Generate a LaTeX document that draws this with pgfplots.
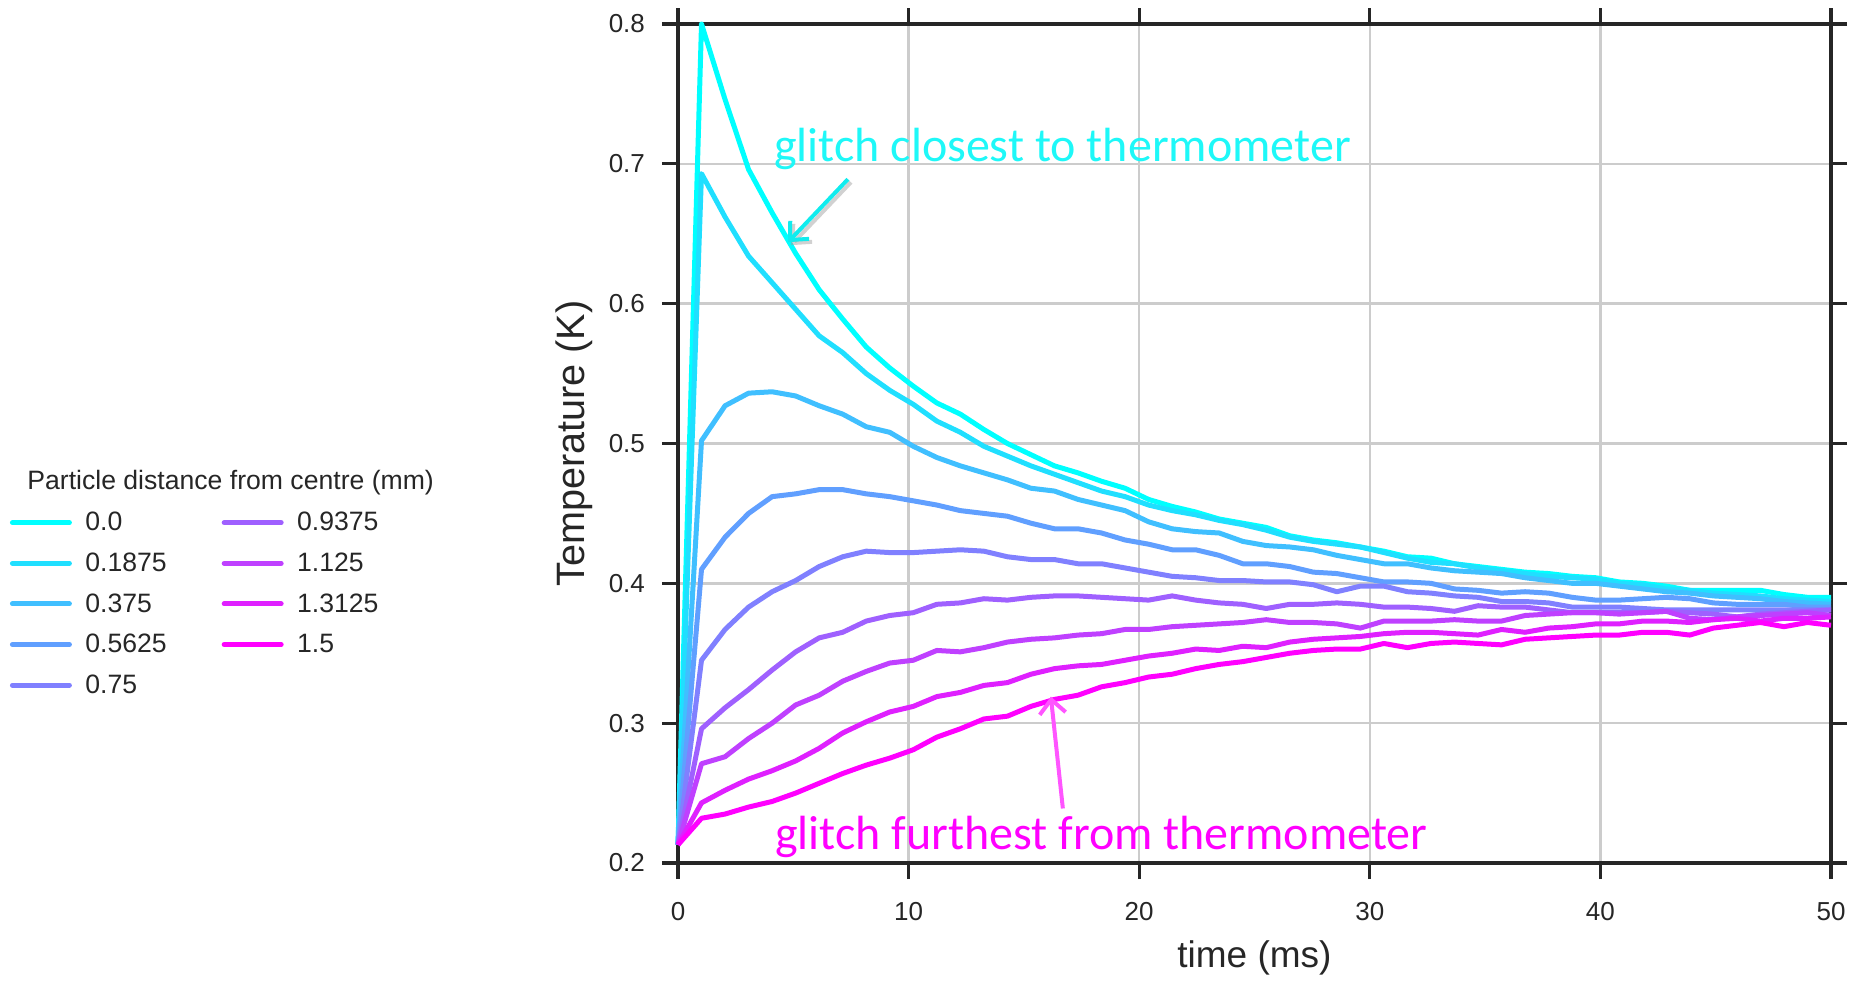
\documentclass[border=0pt]{standalone}
\usepackage{fontspec}
\setmainfont{Liberation Sans}
\newfontfamily\calibri{Carlito}
\usepackage{pgfplots}
\usepackage{pgfplotstable}
\pgfplotsset{compat=1.18}
\usetikzlibrary{arrows.meta}

\definecolor{txt}{HTML}{262626}
\definecolor{gridc}{HTML}{CCCCCC}
\definecolor{c0}{rgb}{0,1,1}
\definecolor{c1}{rgb}{0.125,0.875,1}
\definecolor{c2}{rgb}{0.25,0.75,1}
\definecolor{c3}{rgb}{0.375,0.625,1}
\definecolor{c4}{rgb}{0.5,0.5,1}
\definecolor{c5}{rgb}{0.625,0.375,1}
\definecolor{c6}{rgb}{0.75,0.25,1}
\definecolor{c7}{rgb}{0.875,0.125,1}
\definecolor{c8}{rgb}{1,0,1}
\definecolor{cyanT}{HTML}{1EF8F8}
\definecolor{cyanA}{HTML}{10ECEE}
\definecolor{magT}{HTML}{FF00FF}
\definecolor{magA}{HTML}{FF55FF}

\pgfplotsset{legend image code/.code={\draw[#1, line cap=round] (0pt,0pt) -- (28.5pt,0pt);}}

\pgfplotstableread{
t s0 s1 s2 s3 s4 s5 s6 s7 s8
0.000 0.213 0.213 0.213 0.213 0.213 0.213 0.213 0.213 0.213
1.020 0.800 0.693 0.502 0.410 0.345 0.296 0.271 0.243 0.232
2.041 0.746 0.662 0.527 0.433 0.367 0.311 0.276 0.252 0.235
3.061 0.696 0.634 0.536 0.450 0.383 0.324 0.289 0.260 0.240
4.082 0.665 0.615 0.537 0.462 0.394 0.338 0.300 0.266 0.244
5.102 0.636 0.596 0.534 0.464 0.402 0.351 0.313 0.273 0.250
6.122 0.610 0.577 0.527 0.467 0.412 0.361 0.320 0.282 0.257
7.143 0.589 0.565 0.521 0.467 0.419 0.365 0.330 0.293 0.264
8.163 0.569 0.550 0.512 0.464 0.423 0.373 0.337 0.301 0.270
9.184 0.554 0.538 0.508 0.462 0.422 0.377 0.343 0.308 0.275
10.204 0.541 0.528 0.498 0.459 0.422 0.379 0.345 0.312 0.281
11.224 0.529 0.516 0.490 0.456 0.423 0.385 0.352 0.319 0.290
12.245 0.521 0.508 0.484 0.452 0.424 0.386 0.351 0.322 0.296
13.265 0.510 0.498 0.479 0.450 0.423 0.389 0.354 0.327 0.303
14.286 0.500 0.491 0.474 0.448 0.419 0.388 0.358 0.329 0.305
15.306 0.492 0.484 0.468 0.443 0.417 0.390 0.360 0.335 0.312
16.327 0.484 0.478 0.466 0.439 0.417 0.391 0.361 0.339 0.317
17.347 0.479 0.472 0.460 0.439 0.414 0.391 0.363 0.341 0.320
18.367 0.473 0.466 0.456 0.436 0.414 0.390 0.364 0.342 0.326
19.388 0.468 0.462 0.452 0.431 0.411 0.389 0.367 0.345 0.329
20.408 0.460 0.456 0.444 0.428 0.408 0.388 0.367 0.348 0.333
21.429 0.455 0.452 0.439 0.424 0.405 0.391 0.369 0.350 0.335
22.449 0.451 0.449 0.437 0.424 0.404 0.388 0.370 0.353 0.339
23.469 0.446 0.445 0.436 0.420 0.402 0.386 0.371 0.352 0.342
24.490 0.443 0.442 0.430 0.414 0.402 0.385 0.372 0.355 0.344
25.510 0.440 0.438 0.427 0.414 0.401 0.382 0.374 0.354 0.347
26.531 0.434 0.433 0.426 0.412 0.401 0.385 0.372 0.358 0.350
27.551 0.431 0.430 0.424 0.408 0.399 0.385 0.372 0.360 0.352
28.571 0.429 0.428 0.420 0.407 0.394 0.386 0.371 0.361 0.353
29.592 0.426 0.426 0.417 0.404 0.398 0.385 0.368 0.362 0.353
30.612 0.423 0.422 0.414 0.401 0.398 0.383 0.373 0.364 0.357
31.633 0.419 0.418 0.414 0.401 0.394 0.383 0.373 0.365 0.354
32.653 0.418 0.415 0.411 0.400 0.393 0.382 0.373 0.365 0.357
33.673 0.414 0.414 0.409 0.396 0.391 0.380 0.374 0.364 0.358
34.694 0.412 0.411 0.408 0.395 0.390 0.384 0.373 0.363 0.357
35.714 0.410 0.409 0.407 0.393 0.387 0.383 0.373 0.367 0.356
36.735 0.408 0.407 0.404 0.394 0.387 0.383 0.377 0.365 0.360
37.755 0.407 0.405 0.402 0.393 0.386 0.381 0.378 0.368 0.361
38.776 0.405 0.404 0.400 0.390 0.383 0.379 0.379 0.369 0.362
39.796 0.404 0.403 0.400 0.388 0.383 0.379 0.379 0.371 0.363
40.816 0.401 0.400 0.398 0.388 0.383 0.379 0.378 0.371 0.363
41.837 0.400 0.399 0.396 0.389 0.382 0.379 0.379 0.373 0.365
42.857 0.398 0.396 0.394 0.390 0.381 0.380 0.380 0.373 0.365
43.878 0.395 0.395 0.393 0.389 0.381 0.379 0.375 0.372 0.363
44.898 0.395 0.393 0.391 0.386 0.381 0.378 0.374 0.374 0.368
45.918 0.395 0.392 0.390 0.385 0.381 0.376 0.376 0.375 0.370
46.939 0.395 0.391 0.389 0.385 0.381 0.378 0.377 0.373 0.372
47.959 0.392 0.389 0.387 0.385 0.381 0.379 0.378 0.375 0.369
48.980 0.390 0.388 0.386 0.383 0.381 0.380 0.379 0.375 0.372
50.000 0.390 0.387 0.385 0.383 0.381 0.381 0.377 0.376 0.370
}\data

\begin{document}
\begin{tikzpicture}
\begin{axis}[
  width=576.5pt, height=419.5pt, scale only axis,
  xmin=0, xmax=50, ymin=0.2, ymax=0.8,
  xtick={0,10,20,30,40,50},
  ytick={0.2,0.3,0.4,0.5,0.6,0.7,0.8},
  ticklabel style={font=\fontsize{13}{15.6}\selectfont, text=txt},
  xticklabel style={yshift=-8pt},
  yticklabel style={xshift=-5pt, /pgf/number format/.cd, fixed, fixed zerofill, precision=1},
  /pgf/number format/assume math mode=true,
  tick align=outside,
  major tick length=8pt,
  tick style={txt, line width=1.6pt},
  axis line style={txt, line width=1.6pt},
  grid=major,
  major grid style={gridc, line width=1.3pt},
  clip=false,
  xlabel={time (ms)},
  ylabel={Temperature (K)},
  xlabel style={font=\fontsize{18.5}{22}\selectfont, text=txt, at={(axis description cs:0.5,-0.124)}, anchor=base},
  ylabel style={font=\fontsize{19.8}{23}\selectfont, text=txt, at={(axis description cs:-0.0807,0.5)}, anchor=base},
  legend columns=2,
  legend cell align=left,
  legend style={at={(axis description cs:-0.5794,0.4298)}, anchor=north west,
    draw=none, fill=none, inner sep=0pt, outer sep=0pt, row sep=0pt,
    font=\fontsize{13.3}{16}\selectfont, text=txt,
    nodes={inner sep=0pt, text height=14.2pt, text depth=6.1pt},
    /tikz/every even column/.append style={column sep=27.5pt},
    /tikz/every odd column/.append style={column sep=6.7pt}},
  every axis plot/.append style={line width=2.5pt, line join=round},
]
\addplot[c0, forget plot] table[x=t, y=s0] {\data};
\addplot[c1, forget plot] table[x=t, y=s1] {\data};
\addplot[c2, forget plot] table[x=t, y=s2] {\data};
\addplot[c3, forget plot] table[x=t, y=s3] {\data};
\addplot[c4, forget plot] table[x=t, y=s4] {\data};
\addplot[c5, forget plot] table[x=t, y=s5] {\data};
\addplot[c6, forget plot] table[x=t, y=s6] {\data};
\addplot[c7, forget plot] table[x=t, y=s7] {\data};
\addplot[c8, forget plot] table[x=t, y=s8] {\data};

\addlegendimage{c0, line width=2.5pt}\addlegendentry{0.0}
\addlegendimage{c5, line width=2.5pt}\addlegendentry{0.9375}
\addlegendimage{c1, line width=2.5pt}\addlegendentry{0.1875}
\addlegendimage{c6, line width=2.5pt}\addlegendentry{1.125}
\addlegendimage{c2, line width=2.5pt}\addlegendentry{0.375}
\addlegendimage{c7, line width=2.5pt}\addlegendentry{1.3125}
\addlegendimage{c3, line width=2.5pt}\addlegendentry{0.5625}
\addlegendimage{c8, line width=2.5pt}\addlegendentry{1.5}
\addlegendimage{c4, line width=2.5pt}\addlegendentry{0.75}

\node[anchor=base west, inner sep=0pt, font=\fontsize{13.3}{16}\selectfont, text=txt]
  at (axis description cs:-0.5646,0.4446) {Particle distance from centre (mm)};

\node[anchor=base west, inner sep=0pt, text=cyanT, font=\calibri\fontsize{24}{28}\selectfont]
  at (axis cs:4.16,0.702) {glitch closest to thermometer};
\node[anchor=base west, inner sep=0pt, text=magT, font=\calibri\fontsize{24}{28}\selectfont]
  at (axis cs:4.2,0.210) {glitch furthest from thermometer};

\draw[black!40, opacity=0.45, line width=2pt, -{Straight Barb[length=7pt,width=13pt]}]
  ([shift={(1.5pt,-1.5pt)}]axis cs:7.37,0.689) -- ([shift={(1.5pt,-1.5pt)}]axis cs:4.77,0.644);
\draw[cyanA, line width=2pt, -{Straight Barb[length=7pt,width=13pt]}]
  (axis cs:7.37,0.689) -- (axis cs:4.77,0.644);
\draw[magA, line width=2pt, -{Straight Barb[length=7pt,width=13pt]}]
  (axis cs:16.69,0.239) -- (axis cs:16.17,0.319);

\coordinate (O) at (rel axis cs:0,0);
\end{axis}
\pgfresetboundingbox
\path (O) ++(-339pt,-58.5pt) rectangle ++(929pt,490pt);
\end{tikzpicture}
\end{document}
